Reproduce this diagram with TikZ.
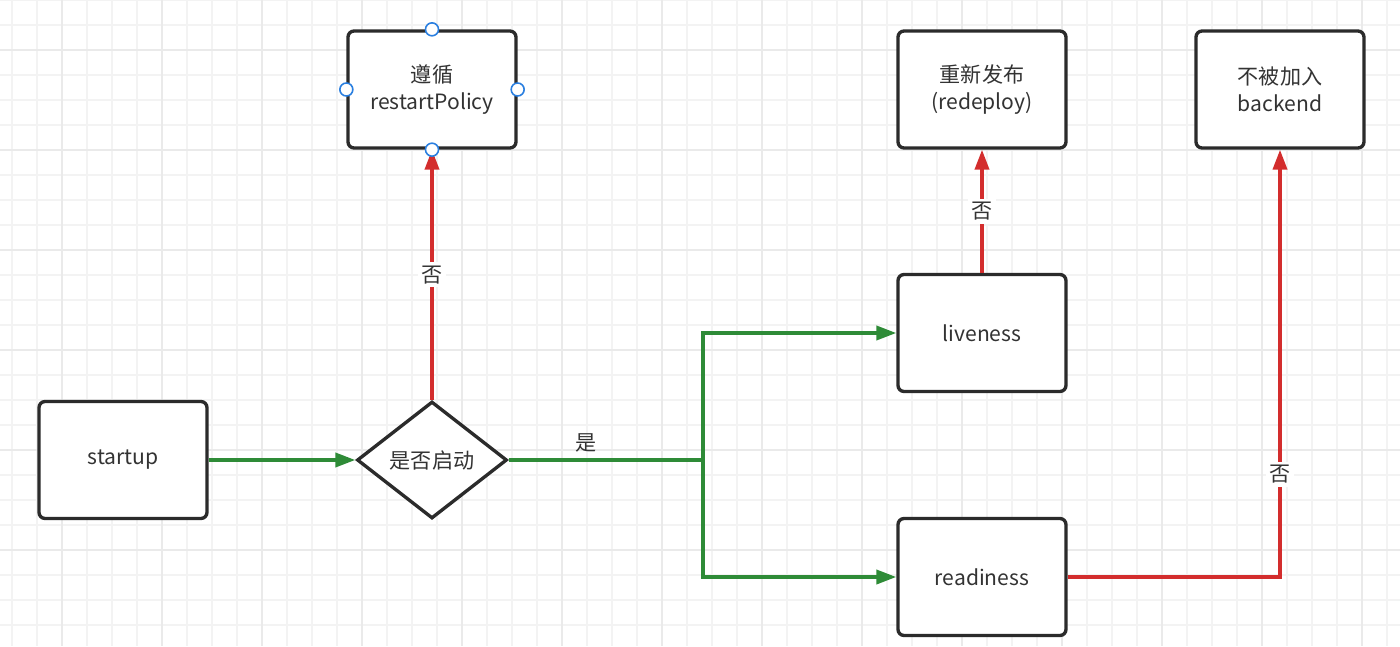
\documentclass[tikz,border=0pt]{standalone}
\usepackage{fontspec}
\setmainfont{Noto Sans CJK SC}
\usepackage{xcolor}
\usepackage{tikz}
\usetikzlibrary{shapes.geometric}
\usetikzlibrary{arrows.meta}
\usetikzlibrary{positioning}

\definecolor{gridminor}{HTML}{F3F3F3}
\definecolor{gridmajor}{HTML}{EAEAEA}
\definecolor{boxline}{HTML}{2B2B2B}
\definecolor{textdark}{HTML}{333333}
\definecolor{flowgreen}{HTML}{2E8B37}
\definecolor{flowred}{HTML}{D32D2D}
\definecolor{handleblue}{HTML}{2A7FE0}

\begin{document}
\begin{tikzpicture}[x=0.02cm,y=-0.02cm,
  every node/.style={font=\fontsize{12}{15.4}\selectfont,text=textdark},
  box/.style={draw=boxline,line width=1.9pt,rounded corners=0.12cm,fill=white,
    minimum width=3.36cm,minimum height=2.34cm,align=center},
  decide/.style={diamond,draw=boxline,line width=1.9pt,fill=white,
    minimum width=3cm,minimum height=2.34cm,inner sep=0pt},
  yes/.style={draw=flowgreen,line width=2.1pt,-{Triangle[length=0.4cm,width=0.28cm]}},
  no/.style={draw=flowred,line width=2.1pt,-{Triangle[length=0.4cm,width=0.28cm]}},
  lbl/.style={fill=white,inner sep=2pt},
  handle/.style={circle,draw=handleblue,fill=white,line width=0.9pt,
    minimum size=0.26cm,inner sep=0pt}]

% background grid
\useasboundingbox (0,0) rectangle (1400,646);
\fill[white] (0,0) rectangle (1400,646);
\foreach \gx in {12,37,...,1400} \draw[gridminor,line width=1pt] (\gx,0) -- (\gx,646);
\foreach \gy in {0,25,...,646} \draw[gridminor,line width=1pt] (0,\gy) -- (1400,\gy);
\foreach \gx in {62,162,...,1400} \draw[gridmajor,line width=1pt] (\gx,0) -- (\gx,646);
\foreach \gy in {50,150,...,646} \draw[gridmajor,line width=1pt] (0,\gy) -- (1400,\gy);

% nodes
\node[box] (startup) at (123,460) {startup};
\node[decide] (started) at (432,460) {是否启动};
\node[box] (policy) at (432,89.5) {遵循\\restartPolicy};
\node[box] (live) at (982,333) {liveness};
\node[box] (ready) at (982,577) {readiness};
\node[box] (redeploy) at (982,89.5) {重新发布\\(redeploy)};
\node[box] (backend) at (1280,89.5) {不被加入\\backend};
\coordinate (split) at (703,460);

% connectors
\draw[yes] (startup) -- (started);
\draw[flowgreen,line width=2.1pt] (started.east) -- node[above,pos=0.4] {是} (split);
\draw[yes] (split) |- (live.west);
\draw[yes] (split) |- (ready.west);
\draw[no] (started.north) -- node[lbl] {否} (policy.south);
\draw[no] (live.north) -- node[lbl] {否} (redeploy.south);
\draw[no] (ready.east) -| node[lbl,pos=0.62] {否} (backend.south);

% selection handles
\foreach \side in {north,south,east,west}
  \node[handle] (h-\side) at (policy.\side) {};
\end{tikzpicture}
\end{document}
